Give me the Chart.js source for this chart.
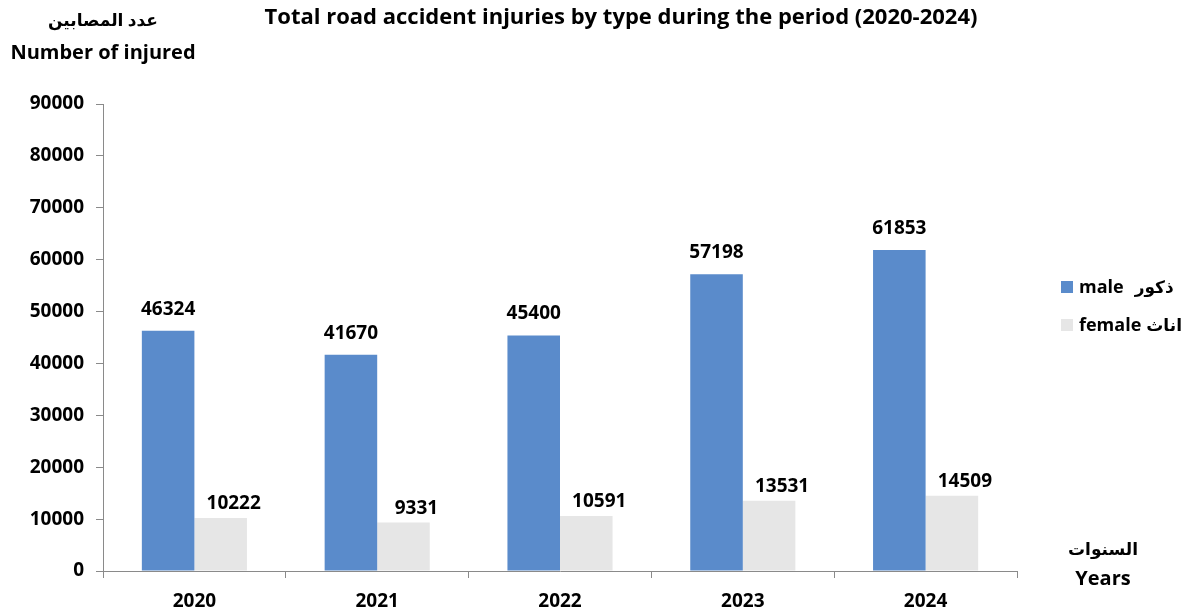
<!DOCTYPE html>
<html>
<head>
<meta charset="utf-8">
<script src="https://cdn.jsdelivr.net/npm/chart.js@4"></script>
<style>
  html, body { margin: 0; padding: 0; background: #fff; }
  #wrap { width: 1185px; height: 613px; }
</style>
</head>
<body>
<div id="wrap"><canvas id="myChart" width="1185" height="613"></canvas></div>
<script>
const years = ["2020", "2021", "2022", "2023", "2024"];
const male = [46324, 41670, 45400, 57198, 61853];
const female = [10222, 9331, 10591, 13531, 14509];
const yTicks = [0, 10000, 20000, 30000, 40000, 50000, 60000, 70000, 80000, 90000];

const FONT = "'Open Sans', 'DejaVu Sans', sans-serif";
const BLUE = "#5a8bcb";
const GRAY = "#e6e6e6";
const AXIS = "#8a8a8a";

// titles, legend and value labels
const extras = {
  id: "extras",
  afterDatasetsDraw(chart) {
    const ctx = chart.ctx;
    ctx.save();
    ctx.fillStyle = "#000";
    ctx.font = "bold 19px " + FONT;
    ctx.textBaseline = "alphabetic";

    // value labels
    ctx.textAlign = "center";
    chart.data.datasets.forEach((ds, di) => {
      const meta = chart.getDatasetMeta(di);
      meta.data.forEach((bar, i) => {
        const dx = di === 0 ? 0 : 13;
        const dy = di === 0 ? 16 : 9;
        ctx.fillText(ds.data[i], bar.x + dx, bar.y - dy);
      });
    });

    // title
    ctx.font = "bold 22px " + FONT;
    ctx.fillText("Total road accident injuries by type during the period (2020-2024)", 621, 24);

    // axis titles
    ctx.font = "bold 17px " + FONT;
    ctx.fillText("عدد المصابين", 103, 26);
    ctx.fillText("السنوات", 1103, 555);
    ctx.font = "bold 20px " + FONT;
    ctx.fillText("Number of injured", 103, 59);
    ctx.fillText("Years", 1103, 585);

    // legend
    const items = [
      { c: BLUE, en: "male", ar: "ذكور", y: 287, gap: 11 },
      { c: GRAY, en: "female", ar: "اناث", y: 325, gap: 5 },
    ];
    items.forEach((it) => {
      ctx.fillStyle = it.c;
      ctx.fillRect(1061, it.y - 6, 12, 12);
      ctx.fillStyle = "#000";
      ctx.textAlign = "left";
      ctx.font = "bold 18px " + FONT;
      ctx.fillText(it.en, 1079, it.y + 6);
      const w = ctx.measureText(it.en).width;
      ctx.font = "bold 17px " + FONT;
      ctx.fillText(it.ar, 1079 + w + it.gap, it.y + 6);
    });
    ctx.restore();
  },
};

new Chart(document.getElementById("myChart"), {
  type: "bar",
  data: {
    labels: years,
    datasets: [
      { label: "male ذكور", data: male, backgroundColor: BLUE },
      { label: "female اناث", data: female, backgroundColor: GRAY },
    ],
  },
  options: {
    responsive: false,
    animation: false,
    layout: { padding: { left: 0, right: 168, top: 104, bottom: 0 } },
    datasets: {
      bar: { categoryPercentage: 0.575, barPercentage: 1 },
    },
    plugins: {
      legend: { display: false },
      tooltip: { enabled: false },
    },
    scales: {
      x: {
        border: { display: true, color: AXIS, width: 1 },
        grid: { drawOnChartArea: false, drawTicks: true, tickLength: 7, color: AXIS, offset: true },
        ticks: { color: "#000", font: { family: FONT, size: 19, weight: "bold" }, padding: 12 },
        afterFit: (scale) => { scale.height = 42; },
      },
      y: {
        min: 0,
        max: 90000,
        border: { display: true, color: AXIS, width: 1 },
        grid: { drawOnChartArea: false, drawTicks: true, tickLength: 7, color: AXIS },
        afterBuildTicks: (scale) => { scale.ticks = yTicks.map((v) => ({ value: v })); },
        ticks: {
          color: "#000",
          font: { family: FONT, size: 19, weight: "bold" },
          padding: 12,
          callback: (v) => String(v),
        },
        afterFit: (scale) => { scale.width = 103; },
      },
    },
  },
  plugins: [extras],
});
</script>
</body>
</html>
